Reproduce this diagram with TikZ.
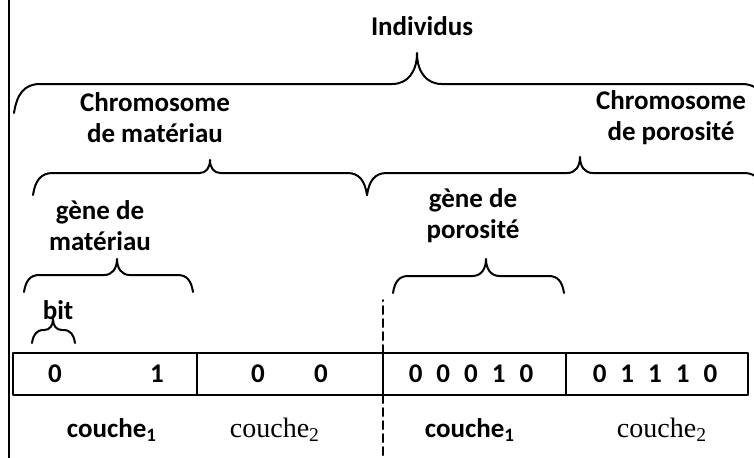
\documentclass[tikz,border=0pt]{standalone}
\usepackage{fontspec}
\setmainfont{Carlito}
\newfontfamily\serifcouche{Liberation Serif}

\begin{document}
\begin{tikzpicture}[line join=round, line cap=round, x=0.5pt, y=0.5pt]
    \tikzset{texte/.style={font=\bfseries\fontsize{13.5}{15.5}\selectfont, align=center, inner sep=0pt},
             texteserif/.style={font=\serifcouche\fontsize{14}{16}\selectfont, inner sep=0pt},
             accolade/.style={line width=1pt},
             cellule/.style={draw, line width=1pt, minimum height=21pt, inner sep=0pt, outer sep=0pt}}
    \def \ecart{\hspace{7pt}}
    % accolade : x gauche, x droit, x pointe, y des bouts, hauteur des bouts, hauteur de la pointe
    \def \accol#1#2#3#4#5#6{%
        \draw[accolade] (#1,#4) .. controls (#1+0.1*#5,#4+0.65*#5) and (#1+0.35*#5,#4+#5) .. (#1+0.9*#5,#4+#5)
            -- (#3-0.8*#6,#4+#5) .. controls (#3-0.3*#6,#4+#5) and (#3,#4+#5+0.4*#6) .. (#3,#4+#5+#6)
            .. controls (#3,#4+#5+0.4*#6) and (#3+0.3*#6,#4+#5) .. (#3+0.8*#6,#4+#5)
            -- (#2-0.9*#5,#4+#5) .. controls (#2-0.35*#5,#4+#5) and (#2-0.1*#5,#4+0.65*#5) .. (#2,#4);}
    \useasboundingbox (0,0) rectangle (754,457);
    \clip (0,0) rectangle (754,457);
    \draw[line width=1pt] (9,-5)--(9,465);

    % niveaux
    \node[texte] (indiv) at (422,431) {Individus};
    \accol{14}{768}{417}{344}{29}{31}
    \node[texte] (chromMat) at (155,339) {Chromosome\\de matériau};
    \node[texte] (chromPor) at (671,339) {Chromosome\\de porosité};
    \accol{33}{367}{210}{262}{22}{13}
    \accol{367}{764}{580}{262}{22}{16}
    \node[texte] (geneMat) at (100,231) {gène de\\matériau};
    \node[texte] (genePor) at (473,241) {gène de\\porosité};
    \accol{24}{193}{117}{165}{17}{16}
    \accol{393}{564}{486}{164}{17}{17}
    \node[texte] (bit) at (58,147) {bit};
    \accol{32}{75}{53}{114}{13}{11}

    % cases
    \node[cellule, minimum width=92pt] (c1) at (105,83) {};
    \node[cellule, minimum width=93pt] (c2) at (290,83) {};
    \node[cellule, minimum width=91.5pt] (c3) at (474.5,83) {};
    \node[cellule, minimum width=91pt] (c4) at (657,83) {};
    \node[texte] (b1) at (55,83) {0};
    \node[texte] (b2) at (157,83) {1};
    \node[texte] (b3) at (258,83) {0};
    \node[texte] (b4) at (321,83) {0};
    \node[texte] (g3) at (471,83) {0\ecart0\ecart0\ecart1\ecart0};
    \node[texte] (g4) at (655,83) {0\ecart1\ecart1\ecart1\ecart0};

    \coordinate (sep haut) at (383,157);
    \coordinate (sep bas) at (383,0);
    \draw[line width=1pt, dash pattern=on 4pt off 2.5pt] (c3.north west)--(sep haut) (c3.south west)--(sep bas);

    \node[texte] (k1) at (112,27) {couche\textsubscript{1}};
    \node[texteserif] (k2) at (275,27) {couche\textsubscript{2}};
    \node[texte] (k3) at (470,27) {couche\textsubscript{1}};
    \node[texteserif] (k4) at (662,27) {couche\textsubscript{2}};
\end{tikzpicture}
\end{document}
